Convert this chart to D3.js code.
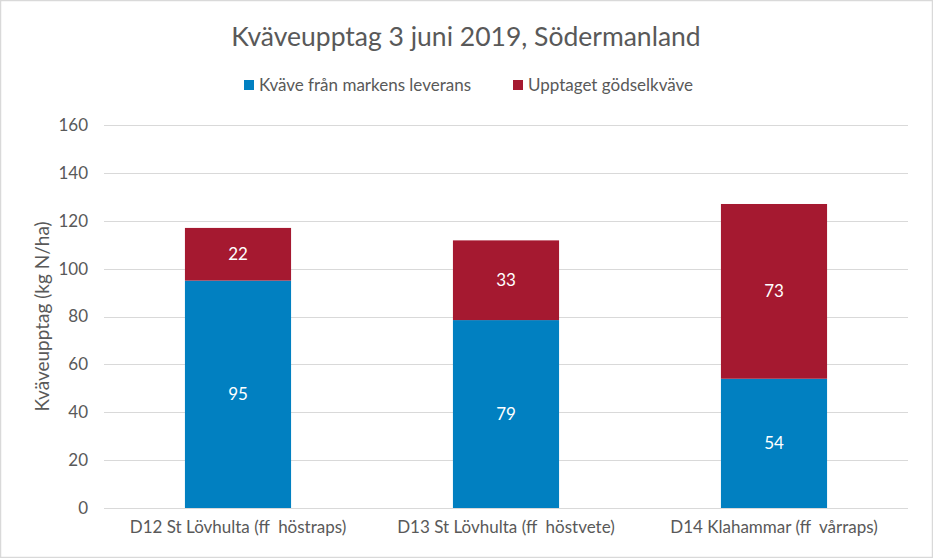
<!DOCTYPE html>
<html><head><meta charset="utf-8">
<script src="https://cdn.jsdelivr.net/npm/d3@7"></script>
<style>body{margin:0;background:#fff}svg{display:block;font-family:Lato,"Open Sans",sans-serif}</style>
</head><body><svg id="c" width="933" height="558"></svg>
<script>
const categories = ["D12 St Lövhulta (ff  höstraps)", "D13 St Lövhulta (ff  höstvete)", "D14 Klahammar (ff  vårraps)"];
const seriesNames = ["Kväve från markens leverans", "Upptaget gödselkväve"];
const markensLeverans = [95, 78.5, 54];
const godselkvave = [22, 33.3, 73];
const yTicks = [0, 20, 40, 60, 80, 100, 120, 140, 160];
const colors = ["#0180C1", "#A51930"];

const svg = d3.select("#c");
const W = 933, H = 558;
const m = {l:104, r:25, t:125, b:50};
const x = d3.scaleBand().domain(categories).range([m.l, W - m.r]).paddingInner(0.604).paddingOuter(0.302);
const y = d3.scaleLinear().domain([0, 160]).range([508, 125]);

svg.append("rect").attr("x",0.5).attr("y",0.5).attr("width",W-1).attr("height",H-1)
  .attr("fill","#fff").attr("stroke","#d9d9d9").attr("stroke-width",1.5);

// gridlines
svg.append("g").selectAll("line").data(yTicks).join("line")
  .attr("x1", m.l).attr("x2", W - m.r)
  .attr("y1", d => Math.round(y(d)) + 0.5).attr("y2", d => Math.round(y(d)) + 0.5)
  .attr("stroke", "#d9d9d9").attr("stroke-width", 1);

// y axis labels
const yAxis = d3.axisLeft(y).tickValues(yTicks).tickSize(0).tickPadding(0);
const gy = svg.append("g").attr("transform", `translate(${88},0)`).call(yAxis);
gy.select(".domain").remove();
gy.selectAll("text").attr("font-size", 17).attr("fill", "#595959").attr("font-family","Lato");

// x axis labels
const xAxis = d3.axisBottom(x).tickSize(0).tickPadding(0);
const gx = svg.append("g").attr("transform", `translate(0,${521})`).call(xAxis);
gx.select(".domain").remove();
gx.selectAll("text").attr("font-size", 17).attr("fill", "#595959").attr("font-family","Lato").style("white-space","pre");

// stacked data
const rows = categories.map((c, i) => ({cat: c, a: markensLeverans[i], b: godselkvave[i]}));
const stack = d3.stack().keys(["a", "b"])(rows);
const g = svg.append("g");
stack.forEach((layer, li) => {
  g.selectAll(null).data(layer).join("rect")
    .attr("x", d => x(d.data.cat)).attr("width", x.bandwidth())
    .attr("y", d => y(d[1])).attr("height", d => y(d[0]) - y(d[1]))
    .attr("fill", colors[li]);
  g.selectAll(null).data(layer).join("text")
    .attr("x", d => x(d.data.cat) + x.bandwidth() / 2)
    .attr("y", d => (y(d[0]) + y(d[1])) / 2)
    .attr("dy", "0.35em").attr("text-anchor", "middle")
    .attr("font-size", 17).attr("fill", "#fff")
    .text(d => d3.format(".0f")(d[1] - d[0]));
});

// y axis title
svg.append("text").attr("transform", `translate(49,${(125+508)/2}) rotate(-90)`)
  .attr("text-anchor", "middle").attr("font-size", 19).attr("fill", "#595959")
  .text("Kväveupptag (kg N/ha)");

// title
svg.append("text").attr("x", 466).attr("y", 46).attr("text-anchor", "middle")
  .attr("font-size", 26.5).attr("fill", "#595959").text("Kväveupptag 3 juni 2019, Södermanland");

// legend
const legX = [244, 513];
seriesNames.forEach((n, i) => {
  svg.append("rect").attr("x", legX[i]).attr("y", 80).attr("width", 10).attr("height", 10).attr("fill", colors[i]);
  svg.append("text").attr("x", legX[i] + 15).attr("y", 85).attr("dy", "0.35em")
    .attr("font-size", 17).attr("fill", "#595959").text(n);
});
</script></body></html>
